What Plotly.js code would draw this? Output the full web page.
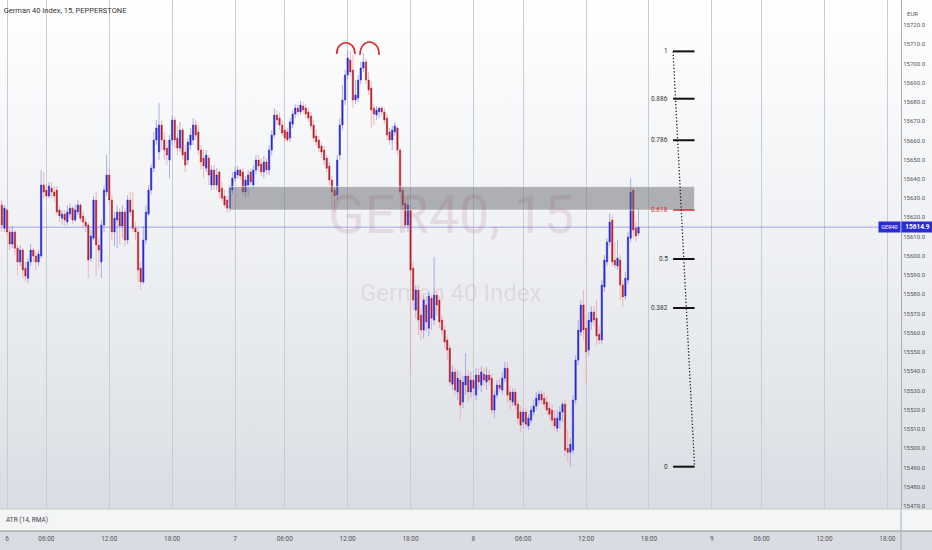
<!DOCTYPE html>
<html>
<head>
<meta charset="utf-8">
<script src="https://cdn.plot.ly/plotly-3.0.1.min.js"></script>
<style>
  html, body { margin: 0; padding: 0; }
  #chart {
    width: 932px; height: 550px;
    background: linear-gradient(to bottom, #ffffff 0px, #eef0f3 250px, #dadde3 509px, #dadde3 550px);
  }
</style>
</head>
<body>
<div id="chart"></div>
<script>
// ---- Bars (15-minute candles), first bar index ----
const firstBar = 2;

const opens = [
15626.4,15614.4,15623.8,15612.4,15606.1,15612.4,15604.0,15596.8,15603.0,15593.6,
15588.4,15596.8,15603.0,15599.9,15596.8,15599.9,15636.8,15634.2,15631.1,15635.2,
15633.2,15634.2,15623.8,15619.6,15621.7,15617.6,15621.7,15624.8,15618.6,15622.8,
15626.4,15620.7,15617.6,15616.0,15598.8,15609.2,15629.0,15605.6,15596.8,15616.0,
15633.2,15642.0,15629.0,15612.4,15618.6,15622.8,15615.5,15622.8,15608.2,15629.0,
15623.8,15614.4,15612.4,15593.6,15586.4,15608.2,15621.7,15634.2,15645.6,15660.2,
15654.0,15668.0,15660.2,15656.0,15649.8,15660.2,15670.6,15661.2,15656.0,15665.4,
15654.0,15649.8,15657.6,15660.2,15668.0,15664.4,15655.0,15650.8,15645.6,15650.8,
15636.8,15644.6,15636.8,15643.6,15635.2,15631.1,15629.0,15624.8,15634.2,15640.4,
15642.0,15644.6,15643.6,15633.2,15636.8,15643.6,15636.8,15644.6,15649.8,15647.7,
15643.6,15648.8,15644.6,15655.0,15662.8,15673.2,15671.6,15668.0,15665.4,15664.4,
15661.2,15668.5,15673.7,15676.8,15674.8,15677.9,15676.8,15674.8,15672.7,15668.0,
15662.3,15660.2,15657.1,15655.0,15650.8,15646.7,15639.4,15634.2,15631.6,15652.4,
15668.0,15681.0,15694.0,15701.8,15696.6,15681.0,15682.0,15691.4,15697.6,15700.8,
15691.4,15687.2,15676.8,15673.2,15674.8,15676.8,15674.8,15671.6,15664.4,15660.2,
15664.4,15666.4,15655.0,15634.2,15627.4,15616.0,15623.8,15593.6,15571.8,15582.2,
15569.2,15561.4,15574.4,15562.4,15578.0,15566.6,15579.6,15577.0,15566.6,15561.4,
15556.2,15552.0,15533.3,15539.6,15529.2,15535.4,15524.0,15532.8,15537.5,15529.2,
15535.4,15527.6,15538.0,15532.8,15538.5,15534.4,15538.0,15536.4,15519.8,15527.6,
15532.8,15530.2,15536.4,15541.6,15529.2,15524.0,15529.2,15522.9,15518.8,15513.6,
15518.8,15511.5,15514.6,15518.8,15521.9,15525.0,15528.1,15526.0,15524.0,15520.8,
15519.8,15515.6,15510.4,15514.6,15518.8,15522.9,15500.0,15497.9,15499.0,15525.0,
15545.8,15560.4,15574.4,15562.4,15551.0,15565.6,15570.8,15567.6,15559.3,15556.2,
15583.8,15596.8,15607.2,15618.6,15597.8,15594.7,15597.8,15584.8,15579.1,15587.4,
15609.2,15634.2,15614.4,15611.8
];

const highs = [
15629.0,15626.4,15624.8,15614.4,15615.5,15613.4,15605.6,15605.6,15604.0,15596.8,
15598.8,15606.1,15604.0,15602.0,15603.0,15644.6,15643.6,15637.3,15638.4,15638.4,
15636.3,15636.3,15625.9,15623.8,15623.8,15626.4,15627.4,15625.9,15626.9,15629.0,
15627.4,15622.8,15619.6,15617.6,15613.4,15631.1,15633.2,15609.2,15618.6,15636.8,
15652.4,15645.6,15631.6,15622.8,15626.4,15624.8,15626.4,15624.8,15631.6,15633.2,
15633.2,15617.6,15614.4,15596.8,15615.5,15626.4,15636.8,15647.7,15664.4,15670.6,
15679.4,15670.6,15664.4,15660.2,15662.8,15673.2,15672.2,15668.0,15669.6,15666.4,
15657.6,15661.2,15666.4,15671.6,15670.6,15668.0,15657.6,15655.0,15655.0,15652.4,
15647.2,15647.2,15645.6,15644.6,15638.4,15634.2,15631.1,15636.8,15643.6,15646.2,
15646.7,15645.6,15645.6,15641.5,15644.6,15645.6,15647.2,15652.4,15652.4,15650.8,
15651.9,15650.8,15657.6,15665.4,15676.8,15675.8,15674.8,15670.6,15667.5,15666.4,
15671.6,15675.8,15678.9,15678.9,15680.5,15680.0,15678.9,15676.8,15674.8,15670.6,
15665.4,15662.3,15659.2,15657.1,15652.4,15648.8,15641.5,15636.3,15652.4,15671.6,
15688.8,15696.6,15707.0,15706.0,15704.4,15691.4,15694.0,15700.8,15705.4,15702.8,
15695.6,15690.4,15678.9,15677.9,15677.4,15677.9,15676.8,15673.7,15666.4,15667.5,
15669.6,15667.5,15656.0,15636.3,15630.0,15631.1,15626.4,15596.8,15584.8,15584.8,
15572.8,15579.6,15579.1,15581.2,15580.1,15599.4,15582.2,15579.1,15569.2,15564.0,
15558.3,15553.6,15543.2,15541.6,15540.6,15539.6,15537.5,15549.4,15540.6,15539.6,
15538.5,15541.6,15541.6,15542.7,15541.6,15542.2,15540.6,15538.5,15530.2,15535.4,
15536.4,15539.6,15544.8,15544.8,15532.3,15531.2,15531.2,15525.0,15521.9,15520.8,
15520.8,15517.7,15521.9,15525.0,15529.2,15530.2,15530.2,15529.2,15527.1,15524.0,
15522.9,15519.8,15519.8,15521.9,15524.0,15525.0,15509.4,15505.2,15527.6,15548.4,
15566.6,15577.0,15582.2,15569.2,15570.8,15573.9,15573.9,15577.0,15563.5,15587.4,
15600.4,15609.2,15622.2,15621.2,15607.2,15608.2,15600.4,15587.4,15591.6,15612.4,
15640.4,15635.2,15617.6,15624.8
];

const lows = [
15612.4,15612.4,15610.3,15603.0,15604.0,15600.4,15590.0,15594.7,15588.4,15586.4,
15585.8,15594.7,15596.8,15592.6,15594.7,15598.8,15630.0,15629.0,15630.0,15630.0,
15628.0,15621.7,15617.6,15616.0,15615.5,15616.0,15619.6,15616.5,15617.6,15621.2,
15617.6,15614.4,15612.4,15588.4,15596.8,15608.2,15589.5,15593.6,15588.4,15612.4,
15631.1,15626.4,15608.2,15605.1,15604.0,15606.1,15609.2,15605.1,15606.1,15620.7,
15612.4,15608.2,15586.4,15582.2,15585.3,15606.1,15620.7,15632.1,15643.6,15657.6,
15649.8,15655.0,15649.8,15647.2,15640.4,15657.6,15656.0,15652.4,15654.0,15649.8,
15643.6,15647.2,15655.0,15657.6,15660.2,15652.4,15644.6,15640.4,15643.6,15636.8,
15634.2,15634.2,15634.2,15630.0,15628.0,15624.8,15622.8,15622.8,15632.1,15638.4,
15640.4,15639.4,15631.1,15630.0,15630.6,15636.3,15635.2,15642.5,15643.6,15641.5,
15640.4,15642.0,15642.0,15652.4,15661.2,15668.0,15665.4,15662.3,15659.2,15659.2,
15659.2,15666.4,15671.6,15672.7,15673.2,15673.7,15671.6,15669.6,15665.4,15659.2,
15657.1,15654.0,15650.8,15647.2,15643.6,15636.8,15626.4,15622.8,15629.0,15649.8,
15665.4,15678.4,15691.4,15693.5,15676.8,15678.9,15680.0,15689.3,15695.6,15689.3,
15683.6,15666.4,15668.0,15670.6,15671.6,15672.7,15668.5,15660.2,15657.6,15655.0,
15662.3,15652.4,15631.1,15623.8,15614.4,15612.4,15539.0,15571.8,15567.6,15558.8,
15556.2,15557.2,15560.4,15558.3,15561.4,15564.0,15569.2,15562.4,15558.8,15552.0,
15545.8,15532.3,15530.2,15527.6,15525.0,15514.6,15520.8,15527.6,15524.0,15526.0,
15527.1,15525.0,15530.2,15529.2,15532.3,15530.2,15532.8,15517.7,15515.6,15526.0,
15529.2,15528.1,15534.4,15523.4,15519.8,15521.9,15519.8,15512.5,15508.4,15510.4,
15510.4,15509.4,15512.5,15516.7,15519.8,15522.9,15522.9,15520.8,15517.7,15514.6,
15511.5,15509.4,15508.4,15510.4,15513.6,15495.9,15492.8,15490.2,15496.9,15522.9,
15543.2,15558.3,15556.2,15533.8,15547.9,15561.4,15563.5,15553.6,15554.1,15554.1,
15581.2,15594.7,15605.1,15594.7,15593.6,15592.6,15577.0,15573.4,15577.0,15585.3,
15607.2,15609.2,15607.2,15610.3
];

const closes = [
15616.0,15624.8,15612.4,15606.1,15612.4,15604.0,15596.8,15603.0,15592.6,15589.5,
15596.8,15603.0,15599.9,15596.8,15600.9,15636.8,15633.2,15631.1,15636.3,15633.2,
15631.1,15622.8,15620.7,15621.7,15618.6,15622.8,15624.8,15618.6,15623.8,15626.4,
15619.6,15617.6,15615.5,15597.8,15610.3,15629.0,15605.6,15603.0,15616.0,15634.2,
15642.0,15629.0,15612.4,15619.6,15622.8,15615.5,15622.8,15608.2,15629.0,15622.8,
15614.4,15612.4,15592.6,15586.4,15608.2,15622.8,15634.2,15645.6,15660.2,15666.4,
15668.0,15660.2,15655.0,15652.4,15660.2,15670.6,15660.2,15656.0,15665.4,15652.4,
15647.2,15659.2,15662.8,15668.0,15662.8,15655.0,15648.8,15646.7,15652.4,15642.0,
15644.6,15636.8,15642.0,15633.2,15630.0,15626.4,15624.8,15635.2,15640.4,15643.6,
15644.6,15641.5,15633.2,15639.4,15642.0,15638.4,15644.6,15649.8,15646.7,15643.6,
15648.8,15644.6,15655.0,15662.8,15673.2,15670.6,15668.0,15663.8,15661.2,15660.2,
15669.6,15673.7,15676.8,15674.8,15678.4,15675.8,15673.7,15671.6,15667.5,15661.2,
15659.2,15656.0,15654.0,15649.8,15645.6,15639.4,15633.2,15631.1,15649.8,15668.0,
15681.0,15694.0,15702.8,15695.6,15681.0,15683.6,15691.4,15697.6,15700.8,15691.4,
15686.2,15675.8,15673.7,15675.8,15676.8,15674.8,15670.6,15662.8,15660.2,15665.4,
15667.5,15655.0,15633.2,15626.4,15616.0,15626.4,15592.6,15577.0,15582.2,15566.6,
15561.4,15577.0,15565.6,15579.1,15567.6,15579.6,15574.4,15565.6,15561.4,15555.2,
15551.0,15534.4,15539.6,15530.2,15536.4,15522.4,15534.4,15537.5,15529.2,15535.4,
15531.2,15538.0,15534.4,15539.6,15535.4,15538.0,15535.4,15519.8,15527.6,15532.8,
15531.2,15536.4,15541.6,15527.6,15525.0,15529.2,15522.4,15515.6,15512.0,15518.8,
15512.5,15515.6,15519.8,15521.9,15526.0,15528.1,15525.0,15522.9,15519.8,15517.7,
15514.6,15511.5,15515.6,15518.8,15522.9,15499.0,15497.9,15502.1,15525.0,15545.8,
15561.4,15574.4,15561.4,15550.0,15566.6,15570.8,15566.6,15558.3,15556.2,15584.8,
15597.8,15607.2,15617.6,15596.8,15595.2,15598.8,15584.8,15578.6,15588.4,15609.8,
15633.2,15613.4,15610.3,15614.9
];

// ---- Time axis ----
const timeTickBars = [4, 19, 43, 67, 91, 110, 134, 158, 182, 201, 225, 249, 273, 292, 316, 340];
const timeTickLabels = ['6','06:00','12:00','18:00','7','06:00','12:00','18:00','8','06:00','12:00','18:00','9','06:00','12:00','18:00'];
const viewBars = [1.3, 345.2];

// ---- Price axis ----
const priceTicks = [15470,15480,15490,15500,15510,15520,15530,15540,15550,15560,15570,15580,15590,
                    15600,15610,15620,15630,15640,15650,15660,15670,15680,15690,15700,15710,15720];
const priceView = [15468.4, 15733.0];

// ---- Drawings ----
const zone = { startBar: 88.7, endBar: 266.4, top: 15636.0, bottom: 15623.8 };
const fibLevels = [1, 0.886, 0.786, 0.618, 0.5, 0.382, 0];
const fibLabels = ['1', '0.886', '0.786', '0.618', '0.5', '0.382', '0'];
const fib = { startBar: 258.2, endBar: 266.4, high: 15706.3, low: 15490.4 };
const arcs = [
  { x0: 129.8, x1: 136.8, base: 15704.9, peak: 15710.8 },
  { x0: 138.7, x1: 146.0, base: 15704.4, peak: 15711.2 }
];
const symbol = 'GER40';
const title = 'German 40 Index, 15, PEPPERSTONE';

// ---- Build ----
const xs = opens.map((_, k) => firstBar + k);
const bodyHigh = opens.map((o, k) => Math.max(o, closes[k]));
const bodyLow = opens.map((o, k) => Math.min(o, closes[k]));
const lastClose = closes[closes.length - 1];

const UP = '#2828d2', DOWN = '#b0202c';
const UPW = '#9a9ae8', DOWNW = '#f0a4a8';

const wicks = {
  type: 'candlestick', x: xs, open: opens, high: highs, low: lows, close: closes,
  increasing: { line: { color: UPW, width: 0.8 }, fillcolor: UPW },
  decreasing: { line: { color: DOWNW, width: 0.8 }, fillcolor: DOWNW },
  whiskerwidth: 0, hoverinfo: 'skip', showlegend: false
};
const bodies = {
  type: 'candlestick', x: xs, open: opens, high: bodyHigh, low: bodyLow, close: closes,
  increasing: { line: { color: UP, width: 0.3 }, fillcolor: UP },
  decreasing: { line: { color: DOWN, width: 0.3 }, fillcolor: DOWN },
  whiskerwidth: 0, hoverinfo: 'skip', showlegend: false
};

const shapes = [];
// lower panes (ATR + time scale)
shapes.push({ type: 'rect', xref: 'paper', yref: 'paper', x0: 0, x1: 932/901, y0: -22/509, y1: 0,
  fillcolor: '#f4f5f7', line: { width: 0 }, layer: 'below' });
shapes.push({ type: 'rect', xref: 'paper', yref: 'paper', x0: 0, x1: 932/901, y0: -41/509, y1: -22/509,
  fillcolor: '#d9dce2', line: { width: 0 }, layer: 'below' });
shapes.push({ type: 'line', xref: 'paper', yref: 'paper', x0: 0, x1: 932/901, y0: 0, y1: 0,
  line: { color: '#c7cad0', width: 1 } });
shapes.push({ type: 'line', xref: 'paper', yref: 'paper', x0: 0, x1: 932/901, y0: -22/509, y1: -22/509,
  line: { color: '#8e9197', width: 1 } });
shapes.push({ type: 'line', xref: 'paper', yref: 'paper', x0: 1, x1: 1, y0: -41/509, y1: 0,
  line: { color: '#a9acb2', width: 1 } });
// last price line
shapes.push({ type: 'line', xref: 'paper', yref: 'y', x0: 0, x1: 1, y0: lastClose, y1: lastClose,
  line: { color: 'rgba(70,70,235,0.45)', width: 1 } });
// gray zone
shapes.push({ type: 'rect', xref: 'x', yref: 'y', x0: zone.startBar, x1: zone.endBar, y0: zone.bottom, y1: zone.top,
  fillcolor: 'rgba(105,108,116,0.5)', line: { color: 'rgba(255,255,255,0.55)', width: 1 }, layer: 'above' });
// fib levels
const annotations = [];
fibLevels.forEach((lv, k) => {
  const p = fib.low + lv * (fib.high - fib.low);
  const isKey = lv === 0.618;
  shapes.push({ type: 'line', xref: 'x', yref: 'y', x0: fib.startBar, x1: fib.endBar, y0: p, y1: p,
    line: { color: isKey ? '#e0262c' : '#111111', width: isKey ? 1.5 : 2 } });
  annotations.push({ xref: 'x', yref: 'y', x: fib.startBar, y: p, xanchor: 'right', yanchor: 'middle',
    xshift: -3, text: fibLabels[k], showarrow: false,
    font: { family: 'Roboto, sans-serif', size: 6.5, color: isKey ? '#e0262c' : '#333333' } });
});
shapes.push({ type: 'line', xref: 'x', yref: 'y', x0: fib.startBar, x1: fib.endBar, y0: fib.high, y1: fib.low,
  line: { color: '#222222', width: 1.3, dash: '1.3px,2px' } });
// arcs
arcs.forEach(a => {
  const c = (a.peak - 0.25 * a.base) / 0.75;
  shapes.push({ type: 'path', xref: 'x', yref: 'y',
    path: `M ${a.x0},${a.base} C ${a.x0},${c} ${a.x1},${c} ${a.x1},${a.base}`,
    line: { color: '#e0242a', width: 1.6 } });
});

// watermark
annotations.push({ xref: 'paper', yref: 'paper', x: 451/901, y: 1 - 215/509, text: 'GER40, 15',
  showarrow: false, font: { family: 'Roboto, sans-serif', size: 54, color: 'rgba(150,60,85,0.13)' } });
annotations.push({ xref: 'paper', yref: 'paper', x: 450/901, y: 1 - 293/509, text: 'German 40 Index',
  showarrow: false, font: { family: 'Roboto, sans-serif', size: 24, color: 'rgba(130,70,90,0.12)' } });
// price scale labels
annotations.push({ xref: 'paper', yref: 'paper', x: 1, y: 1 - 8/509, xanchor: 'left', xshift: 4, text: 'EUR',
  showarrow: false, font: { family: 'Roboto, sans-serif', size: 6, color: '#555' } });
annotations.push({ xref: 'paper', yref: 'y', x: 1, y: lastClose, xanchor: 'left', yanchor: 'middle',
  text: '<b>' + lastClose.toFixed(1) + '</b>', showarrow: false, bgcolor: '#2b2bdc', width: 31, height: 10, borderpad: 0,
  font: { family: 'Roboto, sans-serif', size: 6.5, color: '#ffffff' } });
annotations.push({ xref: 'paper', yref: 'y', x: 1, y: lastClose, xanchor: 'right', yanchor: 'middle',
  text: symbol, showarrow: false, bgcolor: '#2b2bdc', width: 21, height: 10, borderpad: 0,
  font: { family: 'Roboto, sans-serif', size: 5.5, color: '#ffffff' } });
// ATR label
annotations.push({ xref: 'paper', yref: 'paper', x: 0, y: -11/509, xanchor: 'left', xshift: 4, yanchor: 'middle',
  text: 'ATR (14, RMA)', showarrow: false, font: { family: 'Roboto, sans-serif', size: 6.5, color: '#444' } });

const layout = {
  width: 932, height: 550,
  margin: { l: 0, r: 31, t: 0, b: 41 },
  paper_bgcolor: 'rgba(0,0,0,0)', plot_bgcolor: 'rgba(0,0,0,0)',
  showlegend: false, hovermode: false,
  title: { text: title, x: 0.004, xanchor: 'left', xref: 'container', y: 1 - 10/550, yref: 'container', yanchor: 'middle',
    font: { family: 'Roboto, sans-serif', size: 7.5, color: '#333' } },
  xaxis: {
    type: 'linear', range: viewBars, rangeslider: { visible: false },
    tickmode: 'array', tickvals: timeTickBars, ticktext: timeTickLabels,
    showgrid: true, gridcolor: '#c9ccd2', gridwidth: 1, zeroline: false, showline: false,
    ticks: '', ticklabelstandoff: 24,
    tickfont: { family: 'Roboto, sans-serif', size: 6.5, color: '#555' }
  },
  yaxis: {
    side: 'right', range: priceView, tickmode: 'array', tickvals: priceTicks,
    tickformat: '.1f', showgrid: false, zeroline: false,
    showline: true, linecolor: '#a9acb2', linewidth: 1, ticks: '',
    tickfont: { family: 'Roboto, sans-serif', size: 6, color: '#555' }
  },
  shapes: shapes,
  annotations: annotations
};

Plotly.newPlot('chart', [wicks, bodies], layout, { staticPlot: true, displayModeBar: false });
</script>
</body>
</html>
